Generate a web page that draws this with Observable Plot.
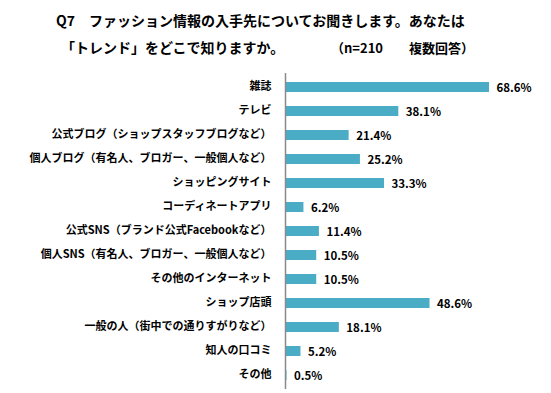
<!DOCTYPE html>
<html><head><meta charset="utf-8">
<script src="https://cdn.jsdelivr.net/npm/d3@7"></script>
<script src="https://cdn.jsdelivr.net/npm/@observablehq/plot@0.6"></script>
<style>
body{margin:0;background:#fff;font-family:"Noto Sans CJK JP","Noto Sans",sans-serif;}
#wrap{position:relative;width:551px;height:393px;overflow:hidden;}
#title{position:relative;height:70px;font-weight:bold;color:#000;}
#t1{position:absolute;left:56px;top:10px;font-size:14px;white-space:pre;}
#t2{position:absolute;left:61px;top:37px;font-size:14px;white-space:pre;}
#t3{position:absolute;left:331px;top:38px;font-size:13px;white-space:pre;}
</style></head>
<body><div id="wrap">
<div id="title">
<div id="t1">Q7　ファッション情報の入手先についてお聞きします。あなたは</div>
<div id="t2">「トレンド」をどこで知りますか。</div>
<div id="t3">（n=210　　複数回答）</div>
</div>
<div id="chart"></div>
</div>
<script>
const categories = ["雑誌","テレビ","公式ブログ（ショップスタッフブログなど）","個人ブログ（有名人、ブロガー、一般個人など）","ショッピングサイト","コーディネートアプリ","公式SNS（ブランド公式Facebookなど）","個人SNS（有名人、ブロガー、一般個人など）","その他のインターネット","ショップ店頭","一般の人（街中での通りすがりなど）","知人の口コミ","その他"];
const values = [68.6,38.1,21.4,25.2,33.3,6.2,11.4,10.5,10.5,48.6,18.1,5.2,0.5];
const data = categories.map((c,i)=>({category:c, value:values[i]}));
const chart = Plot.plot({
  width:551, height:323,
  marginLeft:285, marginRight:62, marginTop:3, marginBottom:4,
  style:{fontFamily:'"Noto Sans CJK JP","Noto Sans",sans-serif', background:"transparent"},
  x:{domain:[0,68.6], axis:null},
  y:{domain:categories, paddingInner:0.59, paddingOuter:0.295, axis:null},
  marks:[
    Plot.barX(data,{y:"category", x:"value", fill:"#4BACC6"}),
    Plot.ruleX([0],{stroke:"#8a8a8a", strokeWidth:1.5}),
    Plot.axisY({tickSize:0, tickPadding:14, fontSize:11, fontWeight:"bold", fill:"#000", label:null, dy:-1}),
    Plot.text(data,{y:"category", x:"value", text:d=>d.value.toFixed(1)+"%", dx:7, dy:1, textAnchor:"start", fontSize:11.5, fontWeight:"bold", fill:"#000"})
  ]
});
document.getElementById("chart").appendChild(chart);
</script>
</body></html>
